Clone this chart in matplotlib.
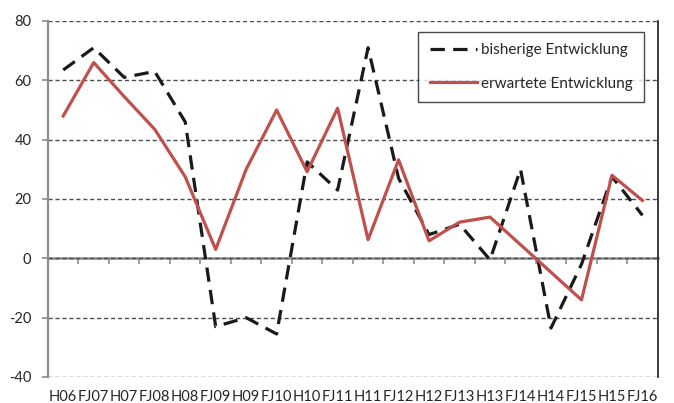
import numpy as np
import matplotlib
matplotlib.use('Agg')
import matplotlib.pyplot as plt

# Half-year survey periods (H = Herbst, FJ = Frühjahr)
periods = ['H06', 'FJ07', 'H07', 'FJ08', 'H08', 'FJ09', 'H09', 'FJ10', 'H10', 'FJ11',
           'H11', 'FJ12', 'H12', 'FJ13', 'H13', 'FJ14', 'H14', 'FJ15', 'H15', 'FJ16']

# Saldo der bisherigen Entwicklung
bisherig = [63.5, 71, 61, 63, 46, -23, -20, -25.5, 32.5, 23,
            71, 27, 8, 11.5, -0.5, 30, -23.5, -2, 27.5, 14.5]

# Saldo der erwarteten Entwicklung
erwartet = [48, 66, 54.5, 43.5, 27.5, 3, 30, 50, 29.2, 50.6,
            6.3, 33.2, 5.9, 12.2, 13.9, 4.6, -4.7, -14, 28, 19.5]

y_ticks = [-40, -20, 0, 20, 40, 60, 80]

plt.rcParams['font.family'] = ['Lato', 'DejaVu Sans']

fig = plt.figure(figsize=(6.74, 4.03), dpi=100)
ax = fig.add_axes([48 / 674, 26 / 403, 609.7 / 674, 356 / 403])

x = np.arange(len(periods))
ax.plot(x, bisherig, color='#1a1a1a', lw=2.3, linestyle=(0, (4.5, 2.6)),
        label='bisherige Entwicklung', zorder=3)
ax.plot(x, erwartet, color='#c0504d', lw=2.3, label='erwartete Entwicklung', zorder=4)

ax.set_xlim(-0.5, len(periods) - 0.5)
ax.set_ylim(-40, 80)
ax.set_yticks(y_ticks)
ax.set_yticklabels([str(v) for v in y_ticks])
ax.set_xticks(x)
ax.set_xticklabels(periods)

ax.yaxis.grid(True, color='#4d4d4d', lw=1.0, linestyle=(0, (3, 2)))
ax.set_axisbelow(True)

for side in ['top', 'bottom']:
    ax.spines[side].set_visible(False)
ax.spines['left'].set_color('#8c8c8c')
ax.spines['left'].set_linewidth(1.6)
ax.spines['right'].set_color('#1a1a1a')
ax.spines['right'].set_linewidth(1.2)

ax.tick_params(axis='y', colors='#8c8c8c', length=4, width=1.2, pad=8,
               labelsize=10.5, labelcolor='#262626')
ax.tick_params(axis='x', length=0, pad=9.5, labelsize=10.5, labelcolor='#262626')

# zero line with category separators
zero = ax.secondary_xaxis(40 / 120)
zero.set_xticks(np.arange(0.5, len(periods) - 1, 1))
zero.tick_params(axis='x', length=4, width=1.2, color='#8c8c8c', labelbottom=False)
zero.spines['bottom'].set_color('#8c8c8c')
zero.spines['bottom'].set_linewidth(1.8)

leg = ax.legend(loc='upper left', bbox_to_anchor=(0.607, 0.969), borderaxespad=0,
                fontsize=11, frameon=True, fancybox=False, handlelength=3.1,
                handletextpad=0.25, labelspacing=1.25, borderpad=0.75)
leg.get_frame().set_edgecolor('#1a1a1a')
leg.get_frame().set_linewidth(1.0)
for t in leg.get_texts():
    t.set_color('#262626')

fig.savefig('out.png', dpi=100)
